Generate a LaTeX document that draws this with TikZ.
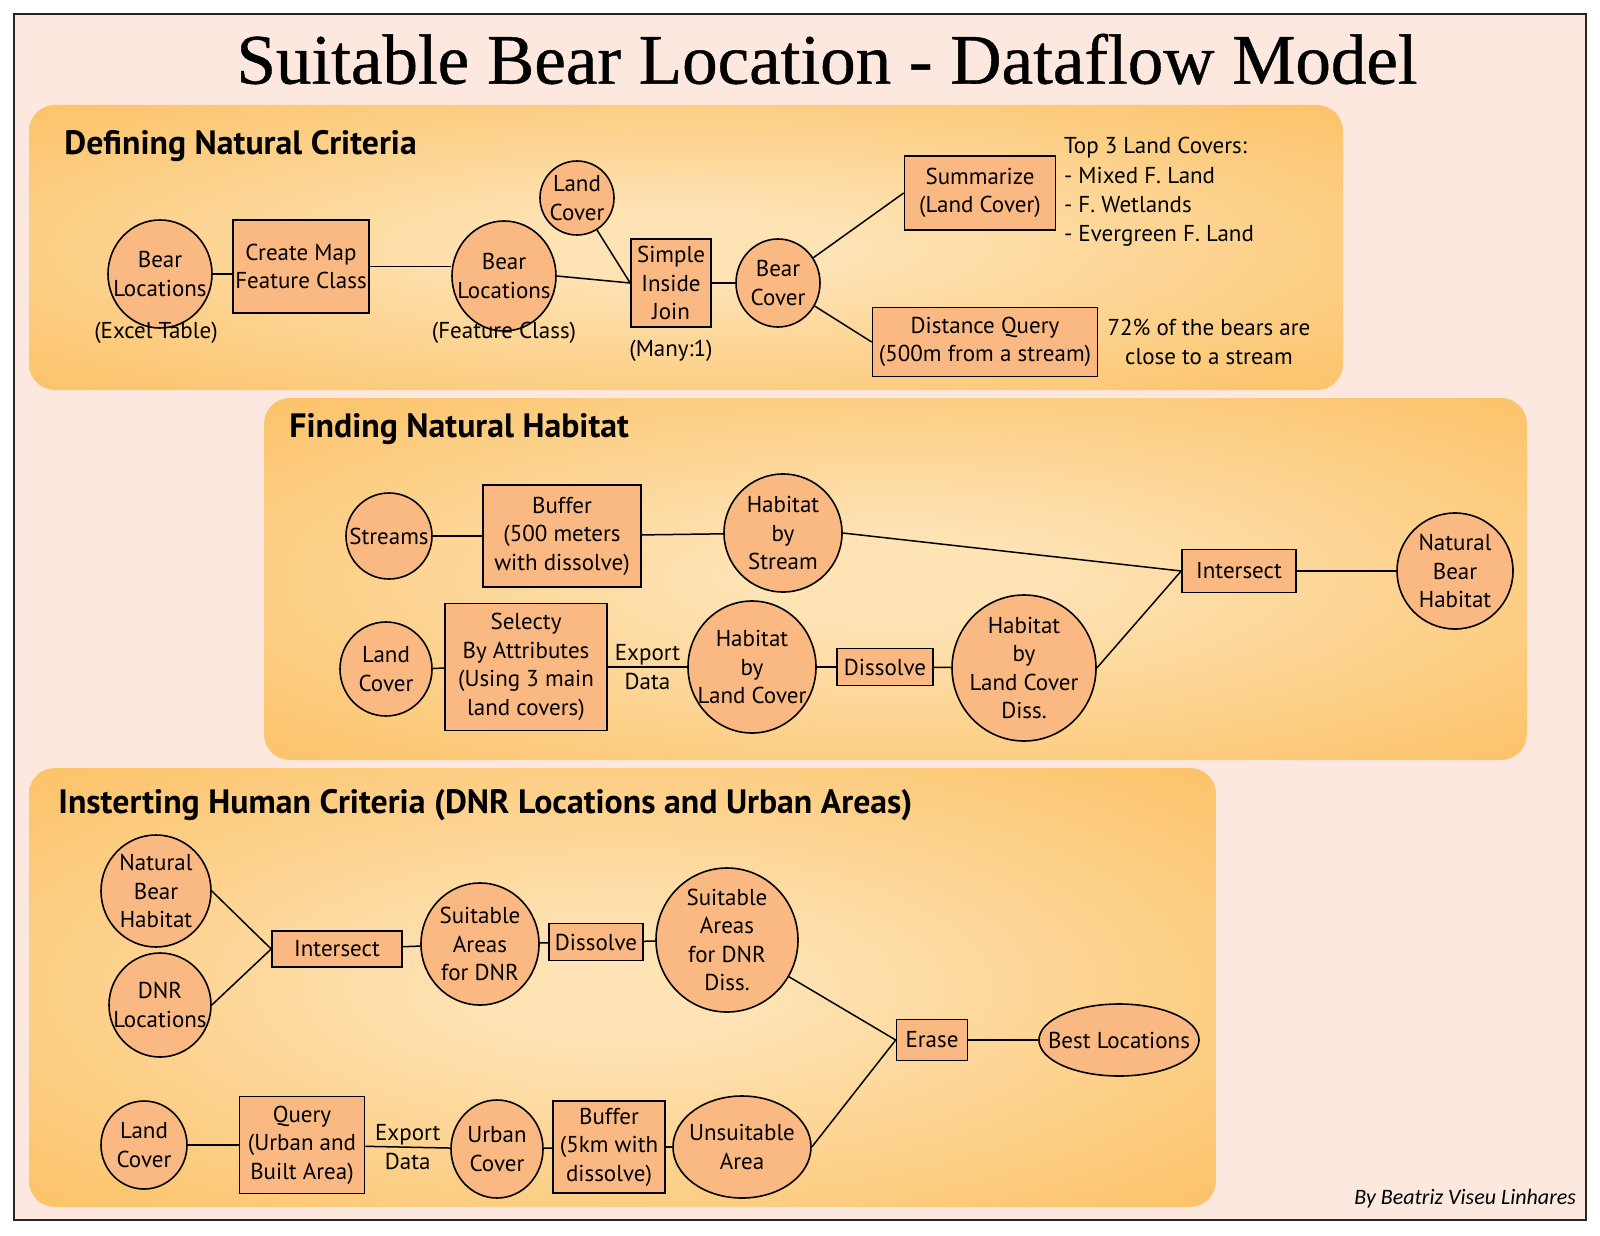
\documentclass[tikz,border=0pt]{standalone}
\usepackage{fontspec}
\setmainfont{PT Sans}
\newfontfamily\signfont{Carlito}
\newfontfamily\titlefont[FakeBold=0.6]{Liberation Serif}
\usetikzlibrary{shapes.geometric}

\definecolor{bgpink}{HTML}{FCE8DF}
\definecolor{pnlout}{HTML}{FBBD5C}
\definecolor{pnlin}{HTML}{FEE3B5}
\definecolor{nodefill}{HTML}{FAB982}

\pgfdeclareradialshading{panelglow}{\pgfpoint{0bp}{0bp}}{%
  color(0bp)=(pnlin); color(6bp)=(pnlin); color(40bp)=(pnlout); color(100bp)=(pnlout)}

\tikzset{
  panel/.style={shading=panelglow, rounded corners=13pt},
  blob/.style 2 args={ellipse, draw, fill=nodefill, line width=0.8pt, inner sep=-40pt,
    minimum width=#1pt, minimum height=#2pt, align=center, font=\fontsize{11.5}{14.3}\selectfont},
  tool/.style 2 args={rectangle, draw, fill=nodefill, line width=0.8pt, inner sep=1pt,
    minimum width=#1pt, minimum height=#2pt, align=center, font=\fontsize{11.5}{14.3}\selectfont},
  note/.style={align=center, font=\fontsize{11.5}{14.3}\selectfont},
  head/.style={anchor=west, inner sep=0pt, font=\bfseries\fontsize{16.9}{19}\selectfont},
  link/.style={line width=0.75pt},
}

\begin{document}
\begin{tikzpicture}[x=0.5pt, y=-0.5pt]
\useasboundingbox (0,0) rectangle (1600,1236);
\draw[fill=bgpink, line width=1pt, draw=black!85] (14,14) rectangle (1586,1220);

% title
\node[font=\titlefont\fontsize{35.5}{40}\selectfont] (ttl) at (827,59)
  {Suitable Bear Location - Dataflow Model};

% panels
\shade[panel] (29,105) rectangle (1343,390);
\shade[panel] (264,398) rectangle (1527,760);
\shade[panel] (29,768) rectangle (1216,1207);
\node[head] (h1) at (64,146) {Defining Natural Criteria};
\node[head] (h2) at (289,429) {Finding Natural Habitat};
\node[head] (h3) at (58,805) {Insterting Human Criteria (DNR Locations and Urban Areas)};

% --- defining natural criteria
\node[blob={52}{54}] (bl1) at (160,274) {Bear\\Locations};
\node[note] (bl1cap) at (156,333) {(Excel Table)};
\node[tool={68}{46.5}] (cmap) at (301,266.5) {Create Map\\Feature Class};
\node[blob={52}{55}] (bl2) at (504,276) {Bear\\Locations};
\node[note] (bl2cap) at (504,333) {(Feature Class)};
\node[blob={37}{37}] (lc1) at (577,198) {Land\\Cover};
\node[tool={40}{44}] (join) at (671,283) {Simple\\Inside\\Join};
\node[note] (joincap) at (671,351) {(Many:1)};
\node[blob={42}{44}] (bc) at (778,283) {Bear\\Cover};
\node[tool={75.5}{37}] (summ) at (980,193) {Summarize\\(Land Cover)};
\node[note, align=left, anchor=west, font=\fontsize{11.5}{14.65}\selectfont] (top3) at (1057,192)
  {Top 3 Land Covers:\\- Mixed F. Land\\- F. Wetlands\\- Evergreen F. Land};
\node[tool={112.5}{34.5}] (dist) at (985,342) {Distance Query\\(500m from a stream)};
\node[note] (pct) at (1209,342) {72\% of the bears are\\close to a stream};

\draw[link] (bl1) -- (bl1 -| cmap.west);
\draw[link] (cmap) -- (cmap -| bl2.west);
\draw[link] (bl2.east) -- (join.west);
\draw[link] (lc1) -- (join.west);
\draw[link] (join) -- (join -| bc.west);
\draw[link] (bc) -- (summ.west);
\draw[link] (bc) -- (dist.west);

% --- finding natural habitat
\node[blob={43}{43}] (st) at (389,536) {Streams};
\node[tool={79}{51}] (buf2) at (562,536) {Buffer\\(500 meters\\with dissolve)};
\node[blob={59}{59}] (hs) at (783,533) {Habitat\\by\\Stream};
\node[tool={57}{21.5}] (isect2) at (1239,571) {Intersect};
\node[blob={58}{58}] (nbh2) at (1455,571) {Natural\\Bear\\Habitat};
\node[blob={46}{47}] (lc2) at (386,669) {Land\\Cover};
\node[tool={81}{63.5}] (sel) at (526,667) {Selecty\\By Attributes\\(Using 3 main\\land covers)};
\node[blob={64}{66}] (hlc) at (752,667) {Habitat\\by\\Land Cover};
\node[tool={48}{18.5}] (dis2) at (885,667) {Dissolve};
\node[blob={72}{73}] (hlcd) at (1024,668) {Habitat\\by\\Land Cover\\Diss.};

\draw[link] (st) -- (buf2);
\draw[link] (buf2) -- (hs);
\draw[link] (hs.east) -- (isect2.west);
\draw[link] (hlcd.east) -- (isect2.west);
\draw[link] (isect2) -- (nbh2);
\draw[link] (lc2) -- (sel);
\draw[link] (sel) -- node[note] (exp2) {Export\\Data} (hlc);
\draw[link] (hlc) -- (dis2);
\draw[link] (dis2) -- (hlcd);

% --- human criteria
\node[blob={55}{56}] (nbh3) at (156,891) {Natural\\Bear\\Habitat};
\node[blob={51}{52}] (dnr) at (160,1005) {DNR\\Locations};
\node[tool={65}{18}] (isect3) at (337,949) {Intersect};
\node[blob={59}{61}] (sad) at (480,944) {Suitable\\Areas\\for DNR};
\node[tool={47}{18.5}] (dis3) at (596,942) {Dissolve};
\node[blob={71}{72}] (sadd) at (727,940) {Suitable\\Areas\\for DNR\\Diss.};
\node[tool={35.5}{20.5}] (erase) at (932,1040) {Erase};
\node[blob={80}{36}] (best) at (1119,1040) {Best Locations};
\node[blob={43}{44}] (lc3) at (144,1145) {Land\\Cover};
\node[tool={62.5}{48.5}] (qry) at (302,1145) {Query\\(Urban and\\Built Area)};
\node[blob={46}{49}] (uc) at (497,1149) {Urban\\Cover};
\node[tool={56}{46}] (buf3) at (609,1147) {Buffer\\(5km with\\dissolve)};
\node[blob={69}{51}] (ua) at (742,1147) {Unsuitable\\Area};

\draw[link] (nbh3.east) -- (isect3.west);
\draw[link] (dnr.east) -- (isect3.west);
\draw[link] (isect3) -- (sad);
\draw[link] (sad) -- (dis3);
\draw[link] (dis3) -- (sadd);
\draw[link] (sadd) -- (erase.west);
\draw[link] (ua.east) -- (erase.west);
\draw[link] (erase) -- (best);
\draw[link] (lc3) -- (qry);
\draw[link] (qry) -- node[note] (exp3) {Export\\Data} (uc);
\draw[link] (uc) -- (buf3);
\draw[link] (buf3) -- (ua);

\node[anchor=east, font=\signfont\itshape\fontsize{11}{13}\selectfont] (sign) at (1583,1199)
  {By Beatriz Viseu Linhares};
\end{tikzpicture}
\end{document}
